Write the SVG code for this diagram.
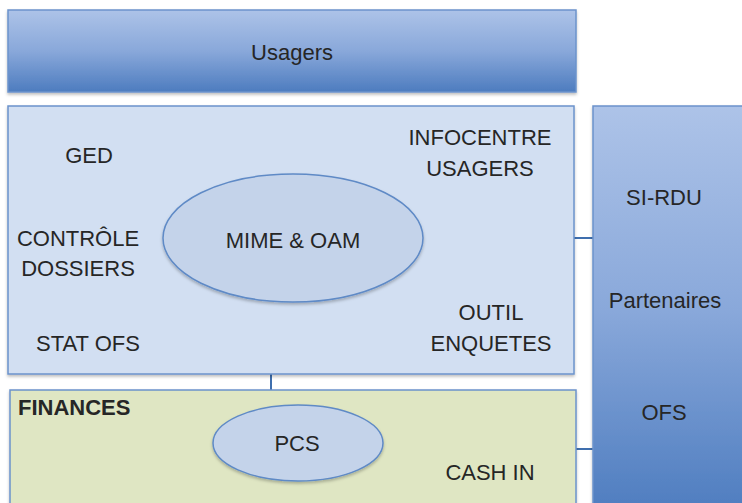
<svg xmlns="http://www.w3.org/2000/svg" width="742" height="503" viewBox="0 0 742 503">
  <defs>
    <linearGradient id="gradBlue" x1="0" y1="0" x2="0" y2="1">
      <stop offset="0" stop-color="#adc3e8"/>
      <stop offset="0.5" stop-color="#89a8da"/>
      <stop offset="1" stop-color="#4d7cbf"/>
    </linearGradient>
    <filter id="shadow" x="-5%" y="-5%" width="110%" height="115%">
      <feDropShadow dx="0" dy="2" stdDeviation="1.5" flood-color="#000" flood-opacity="0.25"/>
    </filter>
  </defs>
  <style>
    .lbl { font-family: "Liberation Sans", Arial, sans-serif; font-size: 22px; fill: #262626; text-anchor: middle; }
    .bold { font-weight: bold; text-anchor: start; }
    .band { fill: url(#gradBlue); stroke: #6b93cb; stroke-width: 1.5; }
    .panel { fill: #d2dff2; stroke: #6b93cb; stroke-width: 1.5; }
    .fin { fill: #dfe6c3; stroke: #6b93cb; stroke-width: 1.5; }
    .oval { fill: #c4d3ea; stroke: #5f8ac6; stroke-width: 1.5; }
    .link { stroke: #3f6fae; stroke-width: 2; fill: none; }
  </style>
  <rect width="742" height="503" fill="#ffffff"/>

  <g id="connectors">
    <line class="link" x1="271" y1="374" x2="271" y2="390"/>
    <line class="link" x1="574" y1="238" x2="593" y2="238"/>
    <line class="link" x1="576" y1="449" x2="593" y2="449"/>
  </g>

  <g id="usagers">
    <rect class="band" x="8" y="10" width="568" height="82" filter="url(#shadow)"/>
    <text class="lbl" x="292" y="60">Usagers</text>
  </g>

  <g id="partenaires">
    <rect class="band" x="593" y="106" width="160" height="410" filter="url(#shadow)"/>
    <text class="lbl" x="664" y="205">SI-RDU</text>
    <text class="lbl" x="665" y="308">Partenaires</text>
    <text class="lbl" x="664" y="420">OFS</text>
  </g>

  <g id="systeme">
    <rect class="panel" x="8" y="106" width="566" height="268" filter="url(#shadow)"/>
    <text class="lbl" x="89" y="163">GED</text>
    <text class="lbl" x="78" y="246">CONTRÔLE</text>
    <text class="lbl" x="78" y="276">DOSSIERS</text>
    <text class="lbl" x="88" y="351">STAT OFS</text>
    <text class="lbl" x="480" y="145">INFOCENTRE</text>
    <text class="lbl" x="480" y="176">USAGERS</text>
    <text class="lbl" x="491" y="320">OUTIL</text>
    <text class="lbl" x="491" y="351">ENQUETES</text>
  </g>

  <g id="mime-oam">
    <ellipse class="oval" cx="293" cy="238" rx="130" ry="64" filter="url(#shadow)"/>
    <text class="lbl" x="293" y="248">MIME &amp; OAM</text>
  </g>

  <g id="finances">
    <rect class="fin" x="10" y="390" width="566" height="126" filter="url(#shadow)"/>
    <text class="lbl bold" x="18" y="415">FINANCES</text>
    <text class="lbl" x="490" y="480">CASH IN</text>
  </g>

  <g id="pcs">
    <ellipse class="oval" cx="298" cy="443" rx="85" ry="38" filter="url(#shadow)"/>
    <text class="lbl" x="297" y="451">PCS</text>
  </g>
</svg>
